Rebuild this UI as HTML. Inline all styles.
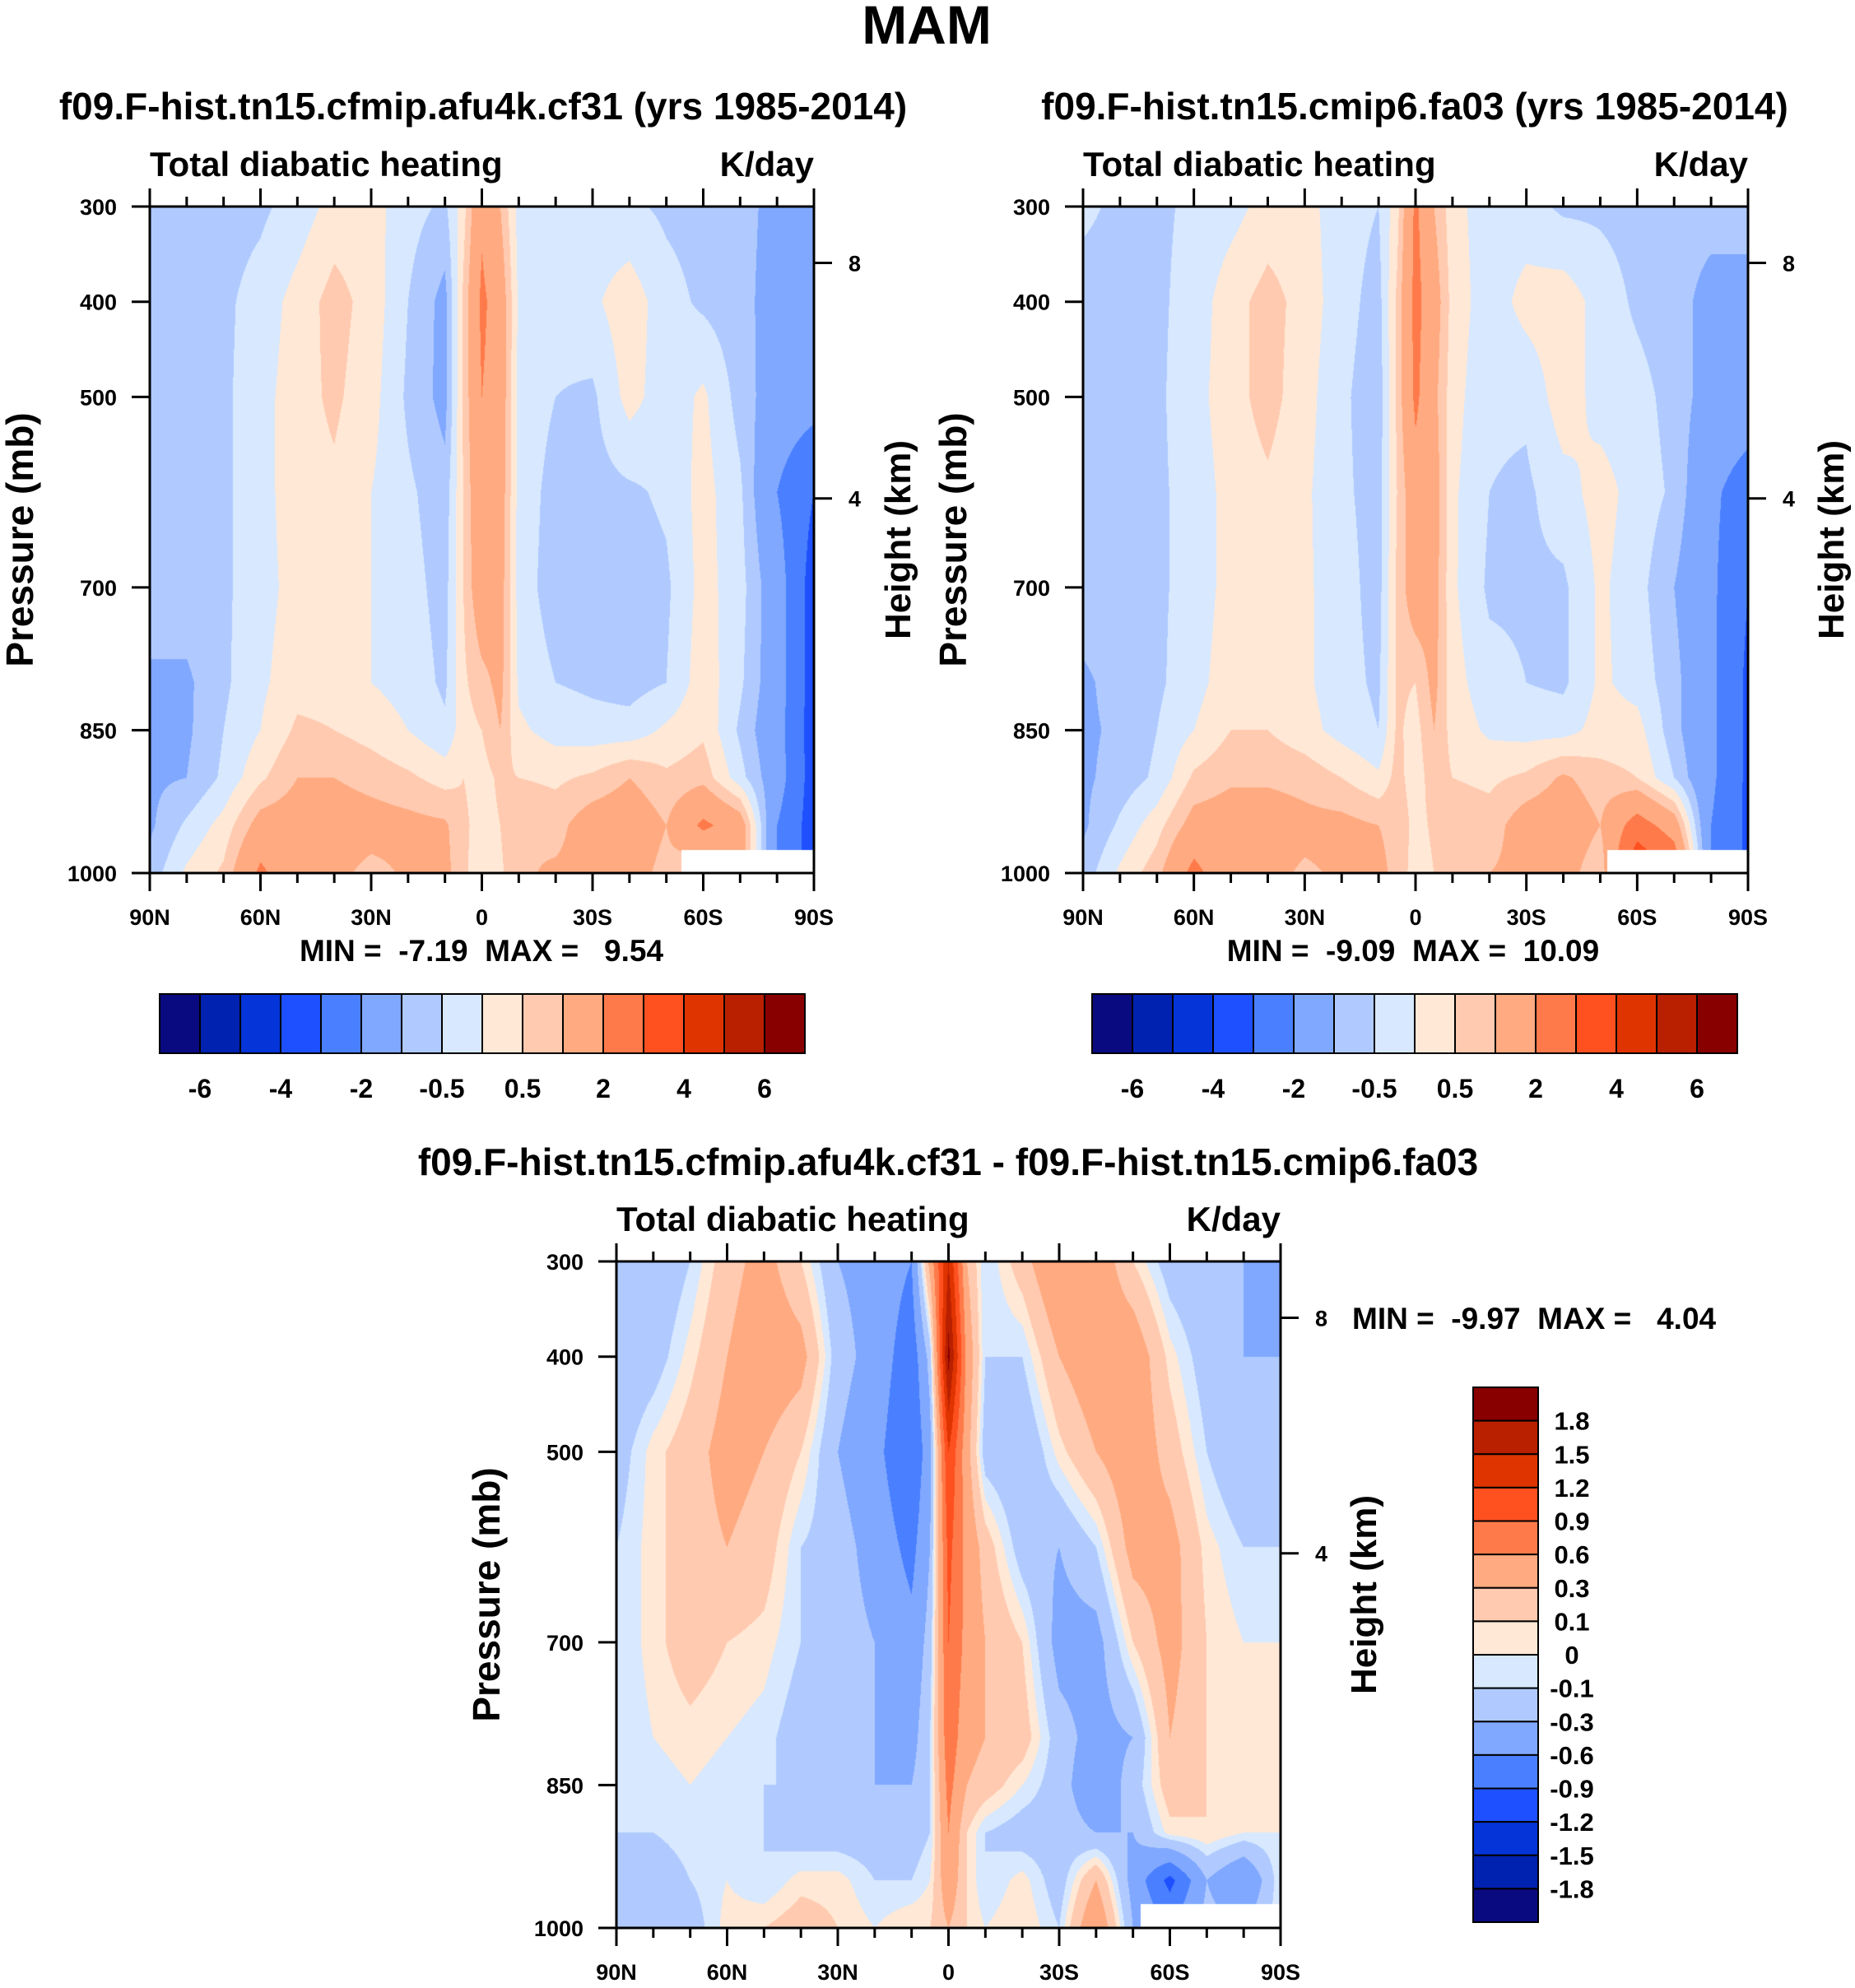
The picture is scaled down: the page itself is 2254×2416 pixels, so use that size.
<!DOCTYPE html>
<html><head><meta charset="utf-8">
<style>
body{margin:0;background:#fff;}
#root{position:relative;width:2254px;height:2416px;overflow:hidden;background:#fff;font-family:"Liberation Sans",sans-serif;font-weight:bold;color:#000;}
canvas{position:absolute;}
svg{position:absolute;left:0;top:0;}
svg text{white-space:pre;}
</style></head>
<body>
<div id="root">
<canvas id="c0"></canvas>
<canvas id="c1"></canvas>
<canvas id="c2"></canvas>
<svg id="ov" width="2254" height="2416" xml:space="preserve"></svg>
</div>
<script>
const lats=[90,80,70,60,50,40,30,20,10,5,0,-5,-10,-20,-30,-40,-50,-60,-70,-80,-90];
const levs=[300,400,500,600,700,800,850,900,950,1000];
const fieldA=[
[-0.7,-0.7,-0.7,-0.6,-0.3,0.2,0.2,-0.3,-0.6,0.3,1.8,1.0,-0.2,-0.3,-0.3,-0.4,-0.6,-0.7,-0.8,-1.2,-1.2],
[-0.7,-0.7,-0.6,-0.3,0.2,0.7,0.3,-0.5,-1.2,0.6,2.2,1.5,-0.1,-0.3,-0.1,0.3,-0.3,-0.6,-0.8,-1.3,-1.4],
[-0.7,-0.7,-0.6,-0.2,0.3,0.6,0.2,-0.6,-1.2,0.6,2.0,1.5,-0.2,-0.5,-0.6,0.2,-0.3,0.1,-0.7,-1.4,-1.6],
[-0.7,-0.7,-0.6,-0.2,0.3,0.4,0.0,-0.4,-0.8,0.5,1.8,1.4,-0.2,-0.7,-0.7,-0.6,-0.4,0.2,-0.4,-2.0,-3.0],
[-0.7,-0.7,-0.6,-0.2,0.2,0.3,0.0,-0.3,-0.7,0.5,1.6,1.3,-0.2,-0.8,-0.8,-0.8,-0.6,0.2,-0.3,-1.5,-3.5],
[-1.1,-1.1,-0.6,-0.1,0.3,0.3,0.0,-0.2,-0.6,0.4,0.8,1.2,-0.1,-0.5,-0.6,-0.7,-0.5,0.3,-0.4,-1.5,-3.5],
[-1.1,-1.1,-0.5,0.0,0.6,0.5,0.3,0.0,-0.4,0.3,0.5,1.0,0.1,-0.2,-0.3,-0.3,0.1,0.4,-0.6,-1.6,-3.5],
[-1.1,-1.0,-0.4,0.4,1.0,1.0,0.8,0.6,0.3,0.5,0.3,0.6,0.5,0.4,0.6,1.0,0.6,0.8,-0.3,-1.5,-3.5],
[-1.1,-0.4,0.2,1.3,1.4,1.4,1.3,1.2,1.1,0.6,0.3,0.5,1.0,0.8,1.4,1.5,1.0,2.2,1.5,-2.0,-3.5],
[-0.8,0.1,0.6,2.2,1.2,1.2,0.8,1.1,1.2,0.6,0.2,0.4,0.9,1.1,1.2,1.3,0.8,0.3,1.5,-2.0,-3.5]];
const fieldB=[
[-0.4,-0.6,-0.6,-0.4,-0.2,0.2,0.2,-0.3,-0.5,0.3,2.2,1.0,0.2,-0.3,-0.3,-0.6,-0.6,-0.7,-0.8,-0.8,-0.8],
[-0.7,-0.7,-0.6,-0.3,0.3,0.7,0.3,-0.3,-0.7,0.6,2.3,1.4,0.3,-0.3,0.2,0.3,-0.2,-0.6,-0.8,-1.2,-1.2],
[-0.7,-0.7,-0.6,-0.2,0.3,0.7,0.2,-0.4,-0.8,0.6,2.2,1.2,0.2,-0.4,-0.4,0.3,-0.2,-0.3,-0.7,-1.3,-1.4],
[-0.7,-0.7,-0.6,-0.3,0.2,0.4,0.1,-0.4,-0.7,0.5,1.6,1.4,0.1,-0.5,-0.6,-0.2,0.2,-0.2,-0.6,-1.8,-2.5],
[-0.7,-0.7,-0.6,-0.3,0.2,0.3,0.1,-0.3,-0.7,0.6,1.5,1.3,0.1,-0.6,-0.6,-0.6,0.1,-0.3,-1.0,-1.8,-3.0],
[-1.1,-0.8,-0.6,-0.2,0.3,0.3,0.1,-0.3,-0.6,0.6,0.5,1.2,0.2,-0.3,-0.5,-0.6,0.1,-0.2,-0.8,-1.8,-3.2],
[-1.1,-0.9,-0.5,0.0,0.5,0.5,0.2,-0.2,-0.5,0.6,0.3,1.0,0.3,-0.1,-0.2,-0.2,0.2,0.2,-0.8,-1.8,-3.2],
[-1.1,-0.8,-0.4,0.6,0.9,0.9,0.8,0.5,0.1,0.7,0.2,0.8,0.5,0.4,0.6,1.1,0.7,0.5,-0.5,-1.8,-3.2],
[-1.1,-0.4,0.3,1.3,1.4,1.4,1.2,1.2,1.0,0.9,0.3,0.6,0.8,0.7,1.4,1.5,1.0,2.5,1.5,-2.0,-3.2],
[-0.8,0.1,0.8,2.3,1.2,1.2,0.9,1.1,1.1,0.9,0.2,0.5,0.8,1.0,1.2,1.3,0.6,4.0,3.0,-2.0,-3.2]];
const fieldD=[
[-0.3,-0.3,-0.1,0.2,0.4,0.1,-0.3,-0.4,-0.6,0.4,1.5,0.3,-0.1,0.2,0.6,0.5,0.1,-0.2,-0.3,-0.3,-0.5],
[-0.3,-0.2,0.05,0.3,0.5,0.4,-0.2,-0.4,-0.8,-0.2,1.9,0.5,-0.1,-0.1,0.3,0.5,0.5,0.05,-0.2,-0.3,-0.3],
[-0.2,0.05,0.2,0.4,0.3,0.1,-0.3,-0.5,-0.9,-0.4,1.2,0.4,-0.2,-0.3,0.05,0.3,0.5,0.2,-0.1,-0.3,-0.2],
[-0.1,0.05,0.2,0.3,0.2,-0.1,-0.2,-0.4,-0.7,-0.3,1.0,0.5,0.2,-0.2,-0.3,-0.1,0.4,0.4,0.05,-0.1,-0.1],
[-0.1,0.05,0.2,0.1,0.05,-0.1,-0.2,-0.3,-0.5,-0.2,0.9,0.5,0.3,0.1,-0.4,-0.4,0.1,0.4,0.1,0.0,0.0],
[-0.1,0.0,0.05,0.0,-0.05,-0.2,-0.2,-0.3,-0.4,-0.1,0.8,0.4,0.3,0.2,-0.2,-0.4,-0.3,0.3,0.1,0.05,0.0],
[-0.1,-0.05,0.0,-0.05,-0.1,-0.1,-0.2,-0.3,-0.3,-0.1,0.7,0.3,0.2,0.0,-0.2,-0.5,-0.2,0.2,0.1,0.0,0.0],
[-0.1,-0.1,-0.05,-0.1,-0.1,-0.2,-0.2,-0.2,-0.2,-0.1,0.6,0.1,-0.1,-0.2,-0.2,-0.3,-0.3,0.05,0.1,0.0,0.0],
[-0.1,-0.2,-0.1,0.0,-0.1,0.05,0.05,-0.1,-0.1,0.0,0.5,0.1,-0.1,0.05,-0.2,0.3,-0.4,-1.0,-0.3,-0.6,0.0],
[-0.2,-0.3,-0.2,0.05,0.1,0.2,0.1,0.0,0.1,0.1,0.3,0.1,0.0,0.1,-0.1,0.6,-0.3,-0.6,-0.2,-0.3,0.0]];
const levelsTop=[-6,-5,-4,-3,-2,-1,-0.5,0,0.5,1,2,3,4,5,6];
const levelsDiff=[-1.8,-1.5,-1.2,-0.9,-0.6,-0.3,-0.1,0,0.1,0.3,0.6,0.9,1.2,1.5,1.8];
const topLabels=["-6","-4","-2","-0.5","0.5","2","4","6"];
const diffLabels=["-1.8","-1.5","-1.2","-0.9","-0.6","-0.3","-0.1","0","0.1","0.3","0.6","0.9","1.2","1.5","1.8"];
const xTickLabels=["90N","60N","30N","0","30S","60S","90S"];
const pTicks=[300,400,500,700,850,1000];
const heightTicks=[4,8];
const colors=["#0a0a80","#0022b0","#0535d8","#1e50ff","#4a80ff","#80a8ff","#b0caff","#d7e8ff","#ffe8d6","#ffcab0","#ffaa80","#ff7a4a","#ff5020","#e03400","#b82000","#880000"];
const NS="http://www.w3.org/2000/svg";
const ov=document.getElementById('ov');
function hex(c){return [parseInt(c.substr(1,2),16),parseInt(c.substr(3,2),16),parseInt(c.substr(5,2),16)];}
const rgb=colors.map(hex);
function interp(field,lat,p){
  let i=0;while(i<lats.length-2&&lat<lats[i+1])i++;
  let fx=(lats[i]-lat)/(lats[i]-lats[i+1]);
  let j=0;while(j<levs.length-2&&p>levs[j+1])j++;
  let fy=(p-levs[j])/(levs[j+1]-levs[j]);
  fx=Math.max(0,Math.min(1,fx));fy=Math.max(0,Math.min(1,fy));
  const a=field[j][i],b=field[j][i+1],c=field[j+1][i],d=field[j+1][i+1];
  return a*(1-fx)*(1-fy)+b*fx*(1-fy)+c*(1-fx)*fy+d*fx*fy;
}
function lvlIdx(v,lv){let k=0;while(k<lv.length&&v>=lv[k])k++;return k;}
function el(tag,attrs,name){const e=document.createElementNS(NS,tag);for(const k in attrs)e.setAttribute(k,attrs[k]);
  
  
  ov.appendChild(e);return e;}
function txt(s,x,y,size,anchor,name,rot){const e=document.createElementNS(NS,'text');
  e.setAttribute('x',x);e.setAttribute('y',y);e.setAttribute('font-size',size);e.setAttribute('text-anchor',anchor||'middle');
  e.setAttribute('font-family','Liberation Sans, sans-serif');e.setAttribute('font-weight','bold');
  e.setAttributeNS('http://www.w3.org/XML/1998/namespace','xml:space','preserve');
  if(rot)e.setAttribute('transform','rotate(-90 '+x+' '+y+')');
  e.textContent=s;
  
  
  ov.appendChild(e);return e;}
function panel(cid,field,lv,X,Y,W,H,maskLat,maskP){
  const cv=document.getElementById(cid);cv.width=W;cv.height=H;cv.style.left=X+'px';cv.style.top=Y+'px';
  const ctx=cv.getContext('2d');const img=ctx.createImageData(W,H);
  for(let py=0;py<H;py++){const p=300+700*(py+0.5)/H;
    for(let px=0;px<W;px++){const lat=90-180*(px+0.5)/W;
      let c;
      if(lat<maskLat&&p>maskP)c=[255,255,255];else c=rgb[lvlIdx(interp(field,lat,p),lv)];
      const o=(py*W+px)*4;img.data[o]=c[0];img.data[o+1]=c[1];img.data[o+2]=c[2];img.data[o+3]=255;}}
  ctx.putImageData(img,0,0);
  const xs=lat=>X+(90-lat)/180*W, ys=p=>Y+(p-300)/700*H;
  el('rect',{x:X,y:Y,width:W,height:H,fill:'none',stroke:'#000','stroke-width':3},'plot-frame');
  for(let lat=90;lat>=-90;lat-=10){const x=xs(lat);const major=(lat%30===0);const L=major?22:12;
    el('line',{x1:x,y1:Y+H,x2:x,y2:Y+H+L,stroke:'#000','stroke-width':3},'x-tick');
    el('line',{x1:x,y1:Y,x2:x,y2:Y-L,stroke:'#000','stroke-width':3},'x-tick-top');}
  xTickLabels.forEach((s,k)=>txt(s,xs(90-30*k),Y+H+63,27,'middle','x-tick-label'));
  pTicks.forEach(p=>{el('line',{x1:X-22,y1:ys(p),x2:X,y2:ys(p),stroke:'#000','stroke-width':3},'y-tick');
    txt(String(p),X-40,ys(p)+10,27,'end','y-tick-label');});
  heightTicks.forEach(z=>{const p=1000*Math.exp(-z/8.0);const y=ys(p)-(z===8?10:0);
    el('line',{x1:X+W,y1:y,x2:X+W+22,y2:y,stroke:'#000','stroke-width':3},'height-tick');
    txt(String(z),X+W+42,y+10,27,'start','height-tick-label');});
  txt('Total diabatic heating',X,Y-37,42,'start','subtitle-left');
  txt('K/day',X+W,Y-37,42,'end','units-label');
  txt('Pressure (mb)',X-142,Y+H/2,46,'middle','y-axis-title',true);
}
function hbar(X,Y,W,H){const n=colors.length,w=W/n;
  colors.forEach((c,k)=>el('rect',{x:X+k*w,y:Y,width:w,height:H,fill:c,stroke:'#000','stroke-width':2},'colorbar-box'));
  topLabels.forEach((s,k)=>txt(s,X+w*(1+2*k),Y+H+54,32,'middle','colorbar-label'));}
panel('c0',fieldA,levelsTop,182,251,807,810,-54,976);
panel('c1',fieldB,levelsTop,1316,251,808,810,-52,976);
panel('c2',fieldD,levelsDiff,749,1533,807,810,-52,975);
txt('MAM',1126,53,66,'middle','figure-title');
txt('f09.F-hist.tn15.cfmip.afu4k.cf31 (yrs 1985-2014)',587,145,46,'middle','left-panel-title');
txt('f09.F-hist.tn15.cmip6.fa03 (yrs 1985-2014)',1719,145,46,'middle','right-panel-title');
txt('f09.F-hist.tn15.cfmip.afu4k.cf31 - f09.F-hist.tn15.cmip6.fa03',1152,1428,46,'middle','difference-title');
txt('Height (km)',1106,656,44,'middle','height-axis-title-left',true);
txt('Height (km)',2240,656,44,'middle','height-axis-title-right',true);
txt('Height (km)',1672,1938,44,'middle','height-axis-title-diff',true);
txt('MIN =  -7.19  MAX =   9.54',585,1168,37,'middle','min-max-left');
txt('MIN =  -9.09  MAX =  10.09',1717,1168,37,'middle','min-max-right');
txt('MIN =  -9.97  MAX =   4.04',1643,1615,37,'start','min-max-diff');
hbar(194,1208,784,72);
hbar(1327,1208,784,72);
(function(){const X=1790,Y=1686,W=79,H=650,n=colors.length,hh=H/n;
  colors.slice().reverse().forEach((c,k)=>el('rect',{x:X,y:Y+k*hh,width:W,height:hh,fill:c,stroke:'#000','stroke-width':2},'colorbar-box'));
  diffLabels.slice().reverse().forEach((s,k)=>txt(s,1910,Y+hh*(k+1)+11,31,'middle','colorbar-label'));})();
</script>
</body></html>
